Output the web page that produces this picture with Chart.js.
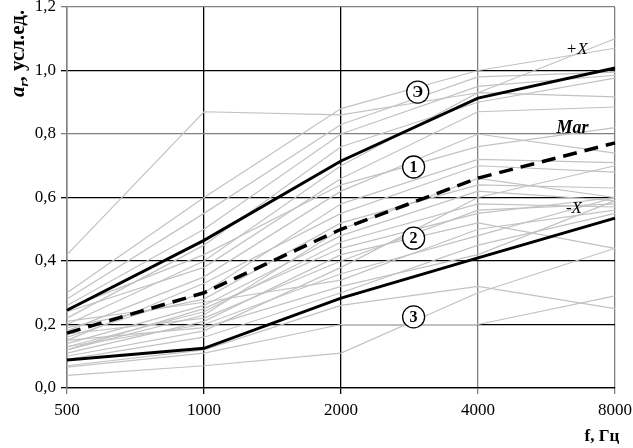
<!DOCTYPE html>
<html>
<head>
<meta charset="utf-8">
<script src="https://cdn.jsdelivr.net/npm/chart.js@4.4.1/dist/chart.umd.min.js"></script>
<style>
    html, body { margin: 0; padding: 0; background: #fff; }
    #wrap { width: 633px; height: 448px; position: relative; }
</style>
</head>
<body>
<div id="wrap"><canvas id="chart"></canvas></div>
<script>
// Data
const freqs = ['500', '1000', '2000', '4000', '8000'];
const yTicks = [0, 0.2, 0.4, 0.6, 0.8, 1.0, 1.2];

const seriesE = [0.245, 0.465, 0.715, 0.913, 1.008];     // Э (+X)
const seriesMar = [0.173, 0.30, 0.50, 0.661, 0.772];     // Mar (dashed)
const seriesMinusX = [0.088, 0.125, 0.283, 0.41, 0.535]; // -X

const greyLines = [
    [0.42, 0.87, 0.86, 0.93, 1.10],
    [0.30, 0.60, 0.88, 1.00, 1.07],
    [0.28, 0.55, 0.83, 0.98, 0.995],
    [0.26, 0.50, 0.80, 0.95, 0.985],
    [0.22, 0.45, 0.76, 0.90, 0.976],
    [0.20, 0.40, 0.70, 0.93, 0.917],
    [0.24, 0.38, 0.66, 0.87, 0.885],
    [0.18, 0.35, 0.62, 0.80, 0.74],
    [0.16, 0.30, 0.58, 0.72, 0.71],
    [0.15, 0.33, 0.55, 0.70, 0.68],
    [0.19, 0.28, 0.52, 0.64, 0.63],
    [0.14, 0.26, 0.48, 0.62, 0.59],
    [0.13, 0.24, 0.46, 0.58, 0.57],
    [0.12, 0.25, 0.44, 0.55, 0.60],
    [0.17, 0.22, 0.40, 0.56, 0.58],
    [0.11, 0.21, 0.42, 0.52, 0.44],
    [0.10, 0.18, 0.38, 0.60, 0.70],
    [0.13, 0.20, 0.36, 0.48, 0.60],
    [0.09, 0.16, 0.30, 0.45, 0.55],
    [0.21, 0.27, 0.34, 0.50, 0.56],
    [0.07, 0.12, 0.26, 0.32, 0.25],
    [0.066, 0.11, 0.20, 0.20, 0.29],
    [0.04, 0.07, 0.11, 0.30, 0.44],
    [0.15, 0.19, 0.32, 0.42, 0.59],
    [0.12, 0.23, 0.50, 0.66, 0.60],
    [0.25, 0.42, 0.64, 0.76, 0.82]
];

// Annotation labels: [text, x index, y value]
const circleLabels = [['Э', 2.56, 0.932], ['1', 2.53, 0.696], ['2', 2.53, 0.472], ['3', 2.53, 0.224]];
const sideLabels = [['+X', 3.72, 1.065], ['Mar', 3.69, 0.819], ['-X', 3.70, 0.564]];

const SERIF = '"Liberation Serif", "DejaVu Serif", serif';

const datasets = [
    { data: seriesE, borderColor: '#000', borderWidth: 3, order: 0 },
    { data: seriesMar, borderColor: '#000', borderWidth: 3.5, borderDash: [14, 8], order: 0 },
    { data: seriesMinusX, borderColor: '#000', borderWidth: 3, order: 0 }
];
greyLines.forEach(values => {
    datasets.push({ data: values, borderColor: '#c2c2c2', borderWidth: 1.2, order: 1 });
});

const xGridColors = ['#808080', '#000', '#000', '#808080', '#808080'];
const yGridColors = ['#000', '#000', '#000', '#000', '#808080', '#000', '#808080'];

const annotations = {
    id: 'annotations',
    afterDatasetsDraw(chart) {
        const ctx = chart.ctx;
        const xs = chart.scales.x;
        const ys = chart.scales.y;
        ctx.save();
        // circled labels
        circleLabels.forEach(([text, xi, yv]) => {
            const px = xs.getPixelForValue(xi);
            const py = ys.getPixelForValue(yv);
            ctx.beginPath();
            ctx.arc(px, py, 11, 0, Math.PI * 2);
            ctx.fillStyle = '#fff';
            ctx.fill();
            ctx.lineWidth = 1.3;
            ctx.strokeStyle = '#000';
            ctx.stroke();
            ctx.fillStyle = '#000';
            ctx.font = 'bold 16px ' + SERIF;
            ctx.textAlign = 'center';
            ctx.textBaseline = 'middle';
            ctx.fillText(text, px, py + 1);
        });
        // side labels
        sideLabels.forEach(([text, xi, yv]) => {
            const px = xs.getPixelForValue(xi);
            const py = ys.getPixelForValue(yv);
            ctx.font = text === 'Mar' ? 'bold italic 18px ' + SERIF : 'italic 17px ' + SERIF;
            ctx.fillStyle = '#000';
            ctx.textAlign = 'center';
            ctx.textBaseline = 'middle';
            ctx.fillText(text, px, py);
        });
        // y title
        ctx.save();
        ctx.translate(24, 97);
        ctx.rotate(-Math.PI / 2);
        ctx.textAlign = 'left';
        ctx.textBaseline = 'alphabetic';
        ctx.font = 'bold italic 21px ' + SERIF;
        ctx.fillText('a', 0, 0);
        let w = ctx.measureText('a').width;
        ctx.font = 'bold italic 13px ' + SERIF;
        ctx.fillText('r', w, 4);
        w += ctx.measureText('r').width;
        ctx.font = 'bold 21px ' + SERIF;
        ctx.fillText(', усл.ед.', w, 0);
        ctx.restore();
        // x title
        ctx.font = 'bold 17px ' + SERIF;
        ctx.textAlign = 'center';
        ctx.textBaseline = 'middle';
        ctx.fillText('f, Гц', 602, 437);
        ctx.restore();
    }
};

new Chart(document.getElementById('chart'), {
    type: 'line',
    data: { labels: freqs, datasets: datasets },
    options: {
        responsive: true,
        maintainAspectRatio: false,
        animation: false,
        layout: { padding: { top: 7, right: 18, left: 0, bottom: 0 } },
        elements: {
            point: { radius: 0 },
            line: { tension: 0, fill: false }
        },
        plugins: {
            legend: { display: false },
            tooltip: { enabled: false }
        },
        scales: {
            x: {
                type: 'category',
                offset: false,
                afterFit: scale => {
                    scale.height = 60;
                    scale.paddingLeft = 0;
                    scale.paddingRight = 0;
                },
                grid: {
                    color: ctx => xGridColors[ctx.index] || '#000',
                    lineWidth: 1.3,
                    tickLength: 6
                },
                border: { color: '#000', width: 1.3 },
                ticks: {
                    color: '#000',
                    padding: 6,
                    maxRotation: 0,
                    font: { family: SERIF, size: 17 }
                }
            },
            y: {
                min: 0,
                max: 1.2,
                afterFit: scale => {
                    scale.width = 67;
                    scale.paddingTop = 0;
                    scale.paddingBottom = 0;
                },
                afterBuildTicks: scale => { scale.ticks = yTicks.map(v => ({ value: v })); },
                grid: {
                    color: ctx => yGridColors[ctx.index] || '#000',
                    lineWidth: 1.3,
                    tickLength: 6
                },
                border: { color: '#808080', width: 1.5 },
                ticks: {
                    color: '#000',
                    padding: 5,
                    font: { family: SERIF, size: 17 },
                    callback: value => value.toFixed(1).replace('.', ',')
                }
            }
        }
    },
    plugins: [annotations]
});
</script>
</body>
</html>
